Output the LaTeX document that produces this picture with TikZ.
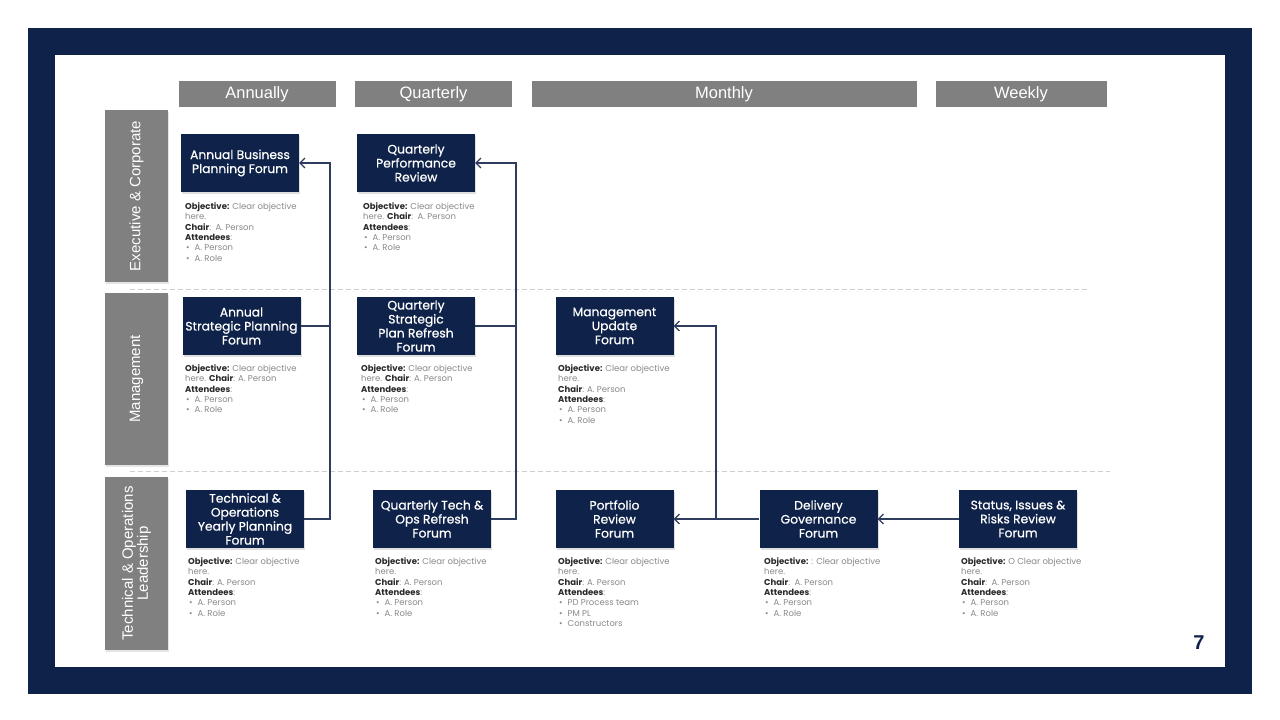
\documentclass[tikz,border=0pt]{standalone}
\usepackage{fontspec}
\setmainfont{Poppins}
\newfontfamily\boxfont[FakeBold=0.6]{Poppins}
\newfontfamily\hdrfont{Liberation Sans}
\usetikzlibrary{arrows.meta,shadows}
\definecolor{navy}{HTML}{0F2249}
\definecolor{hdrgray}{HTML}{808080}
\definecolor{txtgray}{HTML}{8A8A8A}
\definecolor{labc}{HTML}{2A2A2A}
\definecolor{linec}{HTML}{2E3D5E}
\definecolor{dashc}{HTML}{CFCFCF}
\newcommand\mylab[1]{{\color{labc}\bfseries #1}}
\newcommand\mybul{\hspace*{1pt}\textbullet\hspace{5pt}}
\tikzset{
  forum/.style={fill=navy, text=white, minimum width=118pt, minimum height=58pt,
    inner sep=1pt, align=center, font=\boxfont\fontsize{12.3}{14}\selectfont,
    drop shadow={opacity=0.25, shadow xshift=1.2pt, shadow yshift=-1.5pt}},
  hdr/.style={fill=hdrgray, text=white, minimum height=26pt, inner sep=0pt,
    font=\hdrfont\fontsize{16.5}{18}\selectfont},
  rowlab/.style={fill=hdrgray, text=white, minimum width=172pt, minimum height=63pt,
    inner sep=0pt, rotate=90, align=center, font=\hdrfont\fontsize{15}{17}\selectfont,
    drop shadow={opacity=0.2, shadow xshift=1.2pt, shadow yshift=-1.5pt}},
  info/.style={anchor=north west, inner sep=0pt, align=left, text=txtgray,
    font=\fontsize{8.5}{10.3}\selectfont},
  conn/.style={draw=linec, line width=1.1pt},
  arr/.style={conn, -{Straight Barb[length=5pt,width=10pt,line width=1.1pt]}},
  sep/.style={draw=dashc, line width=0.8pt, dash pattern=on 5pt off 3pt}
}
\begin{document}
\begin{tikzpicture}[x=1pt,y=-1pt]
\useasboundingbox (0,0) rectangle (1280,720);
\fill[white] (0,0) rectangle (1280,720);
% frame
\fill[navy] (28,28) rectangle (1252,694);
\fill[white] (55,55) rectangle (1225,667);
\node[text=navy, font=\hdrfont\bfseries\fontsize{20}{22}\selectfont] (pg) at (1199,643) {7};
% headers
\node[hdr, minimum width=157pt] (hA) at (257,94) {Annually};
\node[hdr, minimum width=157pt] (hQ) at (433.5,94) {Quarterly};
\node[hdr, minimum width=385pt] (hM) at (724,94) {Monthly};
\node[hdr, minimum width=171pt] (hW) at (1021,94) {Weekly};
% row labels
\node[rowlab] (r1) at (136.5,196) {Executive \& Corporate};
\node[rowlab] (r2) at (136.5,379) {Management};
\node[rowlab, minimum width=173pt] (r3) at (136.5,563.5) {Technical \& Operations\\[-2pt]Leadership};
% separators
\coordinate (s1a) at (130,289); \coordinate (s1b) at (1090,289);
\coordinate (s2a) at (130,471); \coordinate (s2b) at (1110,471);
\draw[sep] (s1a) -- (s1b);
\draw[sep] (s2a) -- (s2b);
% forums
\node[forum] (abpf) at (240,163) {Annual Business\\Planning Forum};
\node[forum] (qpr) at (416,163) {Quarterly\\Performance\\Review};
\node[forum] (aspf) at (241.5,326) {Annual\\Strategic Planning\\Forum};
\node[forum] (qsprf) at (416,326) {Quarterly\\Strategic\\Plan Refresh\\Forum};
\node[forum] (muf) at (614.5,326) {Management\\Update\\Forum};
\node[forum] (toypf) at (245,519) {Technical \&\\Operations\\Yearly Planning\\Forum};
\node[forum] (qtorf) at (432,519) {Quarterly Tech \&\\Ops Refresh\\Forum};
\node[forum] (prf) at (614.5,519) {Portfolio\\Review\\Forum};
\node[forum] (dgf) at (818.5,519) {Delivery\\Governance\\Forum};
\node[forum] (sirrf) at (1018,519) {Status, Issues \&\\Risks Review\\Forum};
% info texts
\node[info] (t1) at (185,202.5) {\mylab{Objective:} Clear objective\\here.\\\mylab{Chair}:\ \ A. Person\\\mylab{Attendees}:\\\mybul A. Person\\\mybul A. Role};
\node[info] (t2) at (363,202.5) {\mylab{Objective:} Clear objective\\here. \mylab{Chair}:\ \ A. Person\\\mylab{Attendees}:\\\mybul A. Person\\\mybul A. Role};
\node[info] (t3) at (185,364.5) {\mylab{Objective:} Clear objective\\here. \mylab{Chair}: A. Person\\\mylab{Attendees}:\\\mybul A. Person\\\mybul A. Role};
\node[info] (t4) at (361,364.5) {\mylab{Objective:} Clear objective\\here. \mylab{Chair}: A. Person\\\mylab{Attendees}:\\\mybul A. Person\\\mybul A. Role};
\node[info] (t5) at (558,364.5) {\mylab{Objective:} Clear objective\\here.\\\mylab{Chair}: A. Person\\\mylab{Attendees}:\\\mybul A. Person\\\mybul A. Role};
\node[info] (t6) at (188,557.5) {\mylab{Objective:} Clear objective\\here.\\\mylab{Chair}: A. Person\\\mylab{Attendees}:\\\mybul A. Person\\\mybul A. Role};
\node[info] (t7) at (375,557.5) {\mylab{Objective:} Clear objective\\here.\\\mylab{Chair}: A. Person\\\mylab{Attendees}:\\\mybul A. Person\\\mybul A. Role};
\node[info] (t8) at (558,557.5) {\mylab{Objective:} Clear objective\\here.\\\mylab{Chair}: A. Person\\\mylab{Attendees}:\\\mybul PD Process team\\\mybul PM PL\\\mybul Constructors};
\node[info] (t9) at (764,557.5) {\mylab{Objective:} : Clear objective\\here.\\\mylab{Chair}:\ \ A. Person\\\mylab{Attendees}:\\\mybul A. Person\\\mybul A. Role};
\node[info] (t10) at (961,557.5) {\mylab{Objective:} O Clear objective\\here.\\\mylab{Chair}:\ \ A. Person\\\mylab{Attendees}:\\\mybul A. Person\\\mybul A. Role};
% connectors
\coordinate (ja) at (330,163);
\coordinate (jb) at (516,163);
\coordinate (jc) at (716,519);
\draw[arr] (toypf.east) -| (ja) -- (abpf.east);
\draw[conn] (aspf.east) -- (aspf.east -| ja);
\draw[arr] (qtorf.east) -| (jb) -- (qpr.east);
\draw[conn] (qsprf.east) -- (qsprf.east -| jb);
\draw[arr] (dgf.west) -- (prf.east);
\draw[arr] (jc) |- (muf.east);
\draw[arr] (sirrf.west) -- (dgf.east);
\end{tikzpicture}
\end{document}
